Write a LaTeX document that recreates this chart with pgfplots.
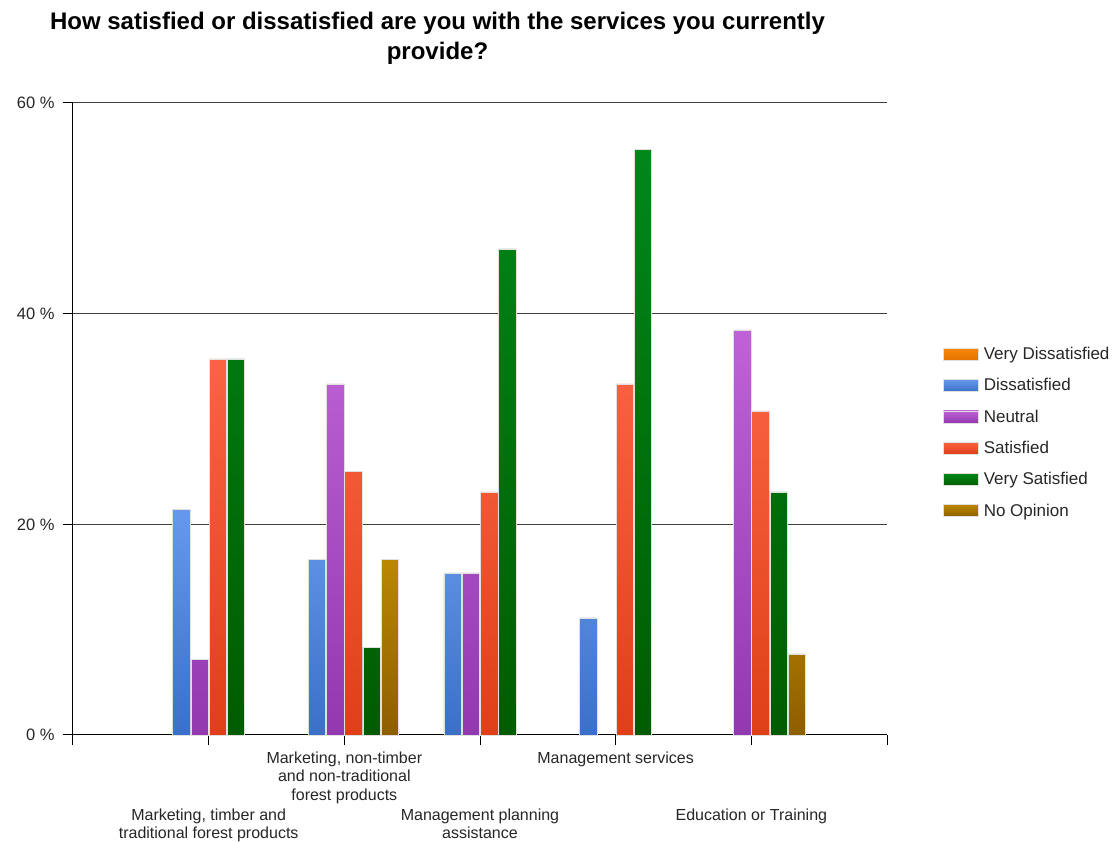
\documentclass[border=0pt]{standalone}
\usepackage{pgfplots}
\pgfplotsset{compat=1.18}
\usepackage{fontspec}
\setmainfont{Liberation Sans}
\definecolor{vdTop}{RGB}{245,135,10}
\definecolor{vdBot}{RGB}{230,115,0}
\definecolor{dTop}{RGB}{102,153,235}
\definecolor{dBot}{RGB}{58,112,200}
\definecolor{nTop}{RGB}{190,98,214}
\definecolor{nBot}{RGB}{148,56,176}
\definecolor{sTop}{RGB}{250,100,66}
\definecolor{sBot}{RGB}{222,64,24}
\definecolor{vsTop}{RGB}{0,136,24}
\definecolor{vsBot}{RGB}{0,92,0}
\definecolor{noTop}{RGB}{186,136,0}
\definecolor{noBot}{RGB}{142,94,0}
\begin{document}
\begin{tikzpicture}[x=1pt,y=1pt]
\path[use as bounding box] (0,0) rectangle (1119,842);
\node[font=\bfseries\fontsize{24}{30}\selectfont, align=center] at (437.5,804) {How satisfied or dissatisfied are you with the services you currently\\provide?};
\begin{axis}[
  at={(73pt,107pt)}, anchor=south west,
  scale only axis, width=814pt, height=632pt,
  xmin=0, xmax=6, ymin=0, ymax=60,
  ybar, bar width=17.5pt,
  axis x line=bottom, axis y line=left,
  axis line style={-, black, line width=1pt},
  ytick={0,20,40,60},
  /pgf/number format/assume math mode=true,
  yticklabel={\pgfmathprintnumber{\tick} \%},
  yticklabel style={font=\fontsize{16.5}{18}\selectfont, text=black!85, xshift=-5pt},
  ymajorgrids, grid style={black!75, line width=1pt},
  tick style={black, line width=1pt}, tick align=outside, major tick length=10pt,
  xtick={2,4},
  xticklabels={{Marketing, non-timber\\and non-traditional\\forest products},{Management services}},
  xticklabel style={align=center, font=\fontsize{16}{18.7}\selectfont, text=black!85, anchor=north, yshift=-3pt},
  extra x ticks={0,1,3,5,6},
  extra x tick labels={,{Marketing, timber and\\traditional forest products},{Management planning\\assistance},{Education or Training},},
  extra x tick style={grid=none, xticklabel style={yshift=-57pt, font=\fontsize{16}{18}\selectfont}},
  legend image code/.code={\draw[#1] (0pt,-6pt) rectangle (35pt,6pt);},
  legend style={at={(1,0.5)}, anchor=west, xshift=56pt, yshift=-13.5pt, draw=none, fill=none, inner sep=0pt,
    font=\fontsize{17}{20}\selectfont, text=black!85, row sep=13.5pt,
    /tikz/every even column/.append style={column sep=7pt}},
  legend cell align=left,
  clip=false,
]
\addlegendimage{top color=vdTop, bottom color=vdBot, draw=black!12, line width=0.6pt}
\addlegendentry{\hspace{3pt}Very Dissatisfied}
\addplot[bar shift=-27.3pt, top color=dTop, bottom color=dBot, draw=black!12, line width=0.6pt]
  coordinates {(1,21.43) (2,16.67) (3,15.38) (4,11.11)};
\addlegendentry{\hspace{3pt}Dissatisfied}
\addplot[bar shift=-9.1pt, top color=nTop, bottom color=nBot, draw=black!12, line width=0.6pt]
  coordinates {(1,7.14) (2,33.33) (3,15.38) (5,38.46)};
\addlegendentry{\hspace{3pt}Neutral}
\addplot[bar shift=9.1pt, top color=sTop, bottom color=sBot, draw=black!12, line width=0.6pt]
  coordinates {(1,35.71) (2,25) (3,23.08) (4,33.33) (5,30.77)};
\addlegendentry{\hspace{3pt}Satisfied}
\addplot[bar shift=27.3pt, top color=vsTop, bottom color=vsBot, draw=black!12, line width=0.6pt]
  coordinates {(1,35.71) (2,8.33) (3,46.15) (4,55.56) (5,23.08)};
\addlegendentry{\hspace{3pt}Very Satisfied}
\addplot[bar shift=45.5pt, top color=noTop, bottom color=noBot, draw=black!12, line width=0.6pt]
  coordinates {(2,16.67) (5,7.69)};
\addlegendentry{\hspace{3pt}No Opinion}
\end{axis}
\end{tikzpicture}
\end{document}
